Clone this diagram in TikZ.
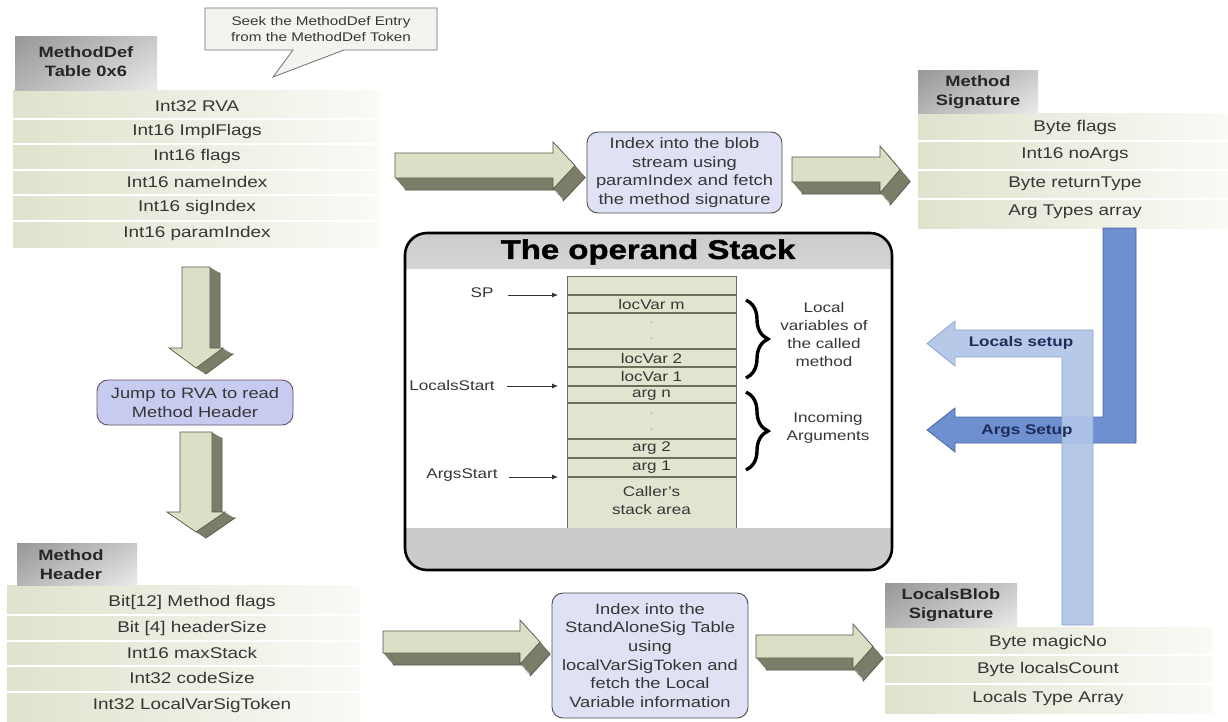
\documentclass[tikz,border=0pt]{standalone}
\usepackage{fontspec}
\setmainfont{Liberation Sans}[FakeStretch=1.22]
\usetikzlibrary{decorations.pathreplacing,arrows.meta,shadings}

\definecolor{txt}{HTML}{363636}
\definecolor{rowL}{HTML}{DEE3CD}
\definecolor{rowR}{HTML}{FAFAF6}
\definecolor{tabUL}{HTML}{979797}
\definecolor{tabUR}{HTML}{C8C8C8}
\definecolor{tabLL}{HTML}{B4B4B4}
\definecolor{tabLR}{HTML}{EAEAEA}
\definecolor{arrface}{HTML}{DCDEC6}
\definecolor{arrside}{HTML}{7B7D69}
\definecolor{arredge}{HTML}{55574A}
\definecolor{boxfill}{HTML}{DFE2F4}
\definecolor{jumpfill}{HTML}{C7CBF0}
\definecolor{jumpedge}{HTML}{6A4C68}
\definecolor{darkblue}{HTML}{6E8FD0}
\definecolor{darkblueE}{HTML}{4A67A5}
\definecolor{lightblue}{HTML}{B1C5E7}
\definecolor{lightblueE}{HTML}{8CA4D0}
\definecolor{bluetxt}{HTML}{1E2C5C}
\definecolor{stackfill}{HTML}{E1E5CF}
\definecolor{stackedge}{HTML}{6D6F5C}
\definecolor{bandgray}{HTML}{CBCBCB}
\definecolor{calloutfill}{HTML}{F3F3EF}
\definecolor{calloutedge}{HTML}{707070}

% three-dimensional block arrow pointing right:
% #1 tail x, #2 head base x, #3 top y, #4 bottom y, #5 head length
\newcommand{\blockright}[5]{%
  \pgfmathsetmacro{\bym}{(#3+#4)/2}%
  \draw[arredge,line width=0.7,fill=arrside,shift={(10.2,12)}]
    (#1,#3) -- (#2,#3) -- (#2,#3-11) -- (#2+#5,\bym) -- (#2,#4+11) -- (#2,#4) -- (#1,#4) -- cycle;
  \foreach \k in {1,...,11}{%
    \fill[arrside,shift={(0.85*\k,\k)}]
      (#1,#3) -- (#2,#3) -- (#2,#3-11) -- (#2+#5,\bym) -- (#2,#4+11) -- (#2,#4) -- (#1,#4) -- cycle;}%
  \draw[arredge,line width=0.7,fill=arrface]
    (#1,#3) -- (#2,#3) -- (#2,#3-11) -- (#2+#5,\bym) -- (#2,#4+11) -- (#2,#4) -- (#1,#4) -- cycle;
}
% three-dimensional block arrow pointing down:
% #1 left x, #2 right x, #3 top y, #4 head base y, #5 head half width, #6 head length
\newcommand{\blockdown}[6]{%
  \pgfmathsetmacro{\bxm}{(#1+#2)/2}%
  \draw[arredge,line width=0.7,fill=arrside,shift={(10,6)}]
    (#1,#3) -- (#2,#3) -- (#2,#4) -- (\bxm+#5,#4) -- (\bxm,#4+#6) -- (\bxm-#5,#4) -- (#1,#4) -- cycle;
  \foreach \k in {1,...,9}{%
    \fill[arrside,shift={(\k,0.6*\k)}]
      (#1,#3) -- (#2,#3) -- (#2,#4) -- (\bxm+#5,#4) -- (\bxm,#4+#6) -- (\bxm-#5,#4) -- (#1,#4) -- cycle;}%
  \draw[arredge,line width=0.7,fill=arrface]
    (#1,#3) -- (#2,#3) -- (#2,#4) -- (\bxm+#5,#4) -- (\bxm,#4+#6) -- (\bxm-#5,#4) -- (#1,#4) -- cycle;
}

\tikzset{
  tabshade/.style={upper left=tabUL,upper right=tabUR,lower left=tabLL,lower right=tabLR},
  rowshade/.style={left color=rowL,right color=rowR},
  rowsep/.style={white,line width=1.6},
  rowtext/.style={text=txt,font=\fontsize{15.5}{19}\selectfont,inner sep=0pt},
  tabtext/.style={text=black!85,font=\fontsize{15}{19}\selectfont\bfseries,align=center,inner sep=0pt},
  stepbox/.style={draw=#1,line width=0.9,rounded corners=11,text=txt,align=center,
    font=\fontsize{15}{18.6}\selectfont,inner sep=0pt},
  stacktext/.style={text=txt,font=\fontsize{14}{18}\selectfont,inner sep=0pt,align=center},
  pointer/.style={-{Latex[length=6pt,width=5pt]},line width=0.8,black!80},
  bracestyle/.style={decorate,decoration={brace,amplitude=22pt,aspect=0.5},line width=3.4},
  bluetext/.style={text=bluetxt,font=\fontsize{14}{17}\selectfont\bfseries,inner sep=0pt},
}

\begin{document}
\begin{tikzpicture}[x=1pt,y=-1pt]
\useasboundingbox (0,0) rectangle (1228,721);
\fill[white] (0,0) rectangle (1228,721);

% ---------- callout ----------
\filldraw[fill=calloutfill,draw=calloutedge,line width=0.8]
  (205,8) -- (437,8) -- (437,50) -- (344,50) -- (273,77) -- (293,50) -- (205,50) -- cycle;
\node[text=txt,font=\fontsize{12.5}{16}\selectfont,align=center,inner sep=0pt] (seek) at (321,29)
  {Seek the MethodDef Entry\\from the MethodDef Token};

% ---------- MethodDef table ----------
\shade[rowshade] (13,90) rectangle (380,247);
\foreach \y in {119,144,170,195,221} \draw[rowsep] (13,\y) -- (380,\y);
\shade[tabshade] (15,36) rectangle (157,90);
\node[tabtext] (mdtab) at (86,62) {MethodDef\\Table 0x6};
\node[rowtext] (md1) at (197,106) {Int32 RVA};
\node[rowtext] (md2) at (197,131) {Int16 ImplFlags};
\node[rowtext] (md3) at (197,156) {Int16 flags};
\node[rowtext] (md4) at (197,182) {Int16 nameIndex};
\node[rowtext] (md5) at (197,207) {Int16 sigIndex};
\node[rowtext] (md6) at (197,233) {Int16 paramIndex};

% ---------- Method signature table ----------
\shade[rowshade] (918,113) rectangle (1228,228);
\foreach \y in {141,170,199} \draw[rowsep] (918,\y) -- (1228,\y);
\shade[tabshade] (918,70) rectangle (1038,113);
\node[tabtext] (sigtab) at (978,92) {Method\\Signature};
\node[rowtext] (sg1) at (1075,127) {Byte flags};
\node[rowtext] (sg2) at (1075,155) {Int16 noArgs};
\node[rowtext] (sg3) at (1075,184) {Byte returnType};
\node[rowtext] (sg4) at (1075,212) {Arg Types array};

% ---------- Method header table ----------
\shade[rowshade] (7,585) rectangle (360,721);
\foreach \y in {615,641,666,692} \draw[rowsep] (7,\y) -- (360,\y);
\shade[tabshade] (17,543) rectangle (137,585);
\node[tabtext] (hdtab) at (71,565) {Method\\Header};
\node[rowtext] (hd1) at (192,602) {Bit[12] Method flags};
\node[rowtext] (hd2) at (192,628) {Bit [4] headerSize};
\node[rowtext] (hd3) at (192,653) {Int16 maxStack};
\node[rowtext] (hd4) at (192,678) {Int32 codeSize};
\node[rowtext] (hd5) at (192,705) {Int32 LocalVarSigToken};

% ---------- LocalsBlob signature table ----------
\shade[rowshade] (885,627) rectangle (1213,713);
\foreach \y in {655,684} \draw[rowsep] (885,\y) -- (1213,\y);
\shade[tabshade] (885,583) rectangle (1017,627);
\node[tabtext] (lbtab) at (951,605) {LocalsBlob\\Signature};
\node[rowtext] (lb1) at (1048,642) {Byte magicNo};
\node[rowtext] (lb2) at (1048,669) {Byte localsCount};
\node[rowtext] (lb3) at (1048,698) {Locals Type Array};

% ---------- block arrows ----------
\blockright{395}{553}{153}{178}{22}
\blockright{792}{880}{157}{182}{20}
\blockright{383}{520}{631}{653}{20}
\blockright{756}{853}{635}{658}{20}
\blockdown{182}{210}{267}{348}{27}{20}
\blockdown{180}{212}{432}{512}{29}{20}

% ---------- step boxes ----------
\node[stepbox=black!70,fill=boxfill,minimum width=195,minimum height=81] (blob) at (684.5,172.5)
  {Index into the blob\\stream using\\paramIndex and fetch\\the method signature};
\node[stepbox=jumpedge,fill=jumpfill,minimum width=196,minimum height=45] (jump) at (195,402.5)
  {Jump to RVA to read\\Method Header};
\node[stepbox=black!70,fill=boxfill,minimum width=196,minimum height=125] (sasig) at (650,655.5)
  {Index into the\\StandAloneSig Table\\using\\localVarSigToken and\\fetch the Local\\Variable information};

% ---------- setup arrows ----------
\filldraw[fill=darkblue,draw=darkblueE,line width=0.8]
  (1103,228) -- (1136,228) -- (1136,443) -- (955,443) -- (955,452) -- (927,430)
  -- (955,408) -- (955,417) -- (1103,417) -- cycle;
\filldraw[fill=lightblue,draw=lightblueE,line width=0.8,fill opacity=0.92]
  (1062,625) -- (1093,625) -- (1093,330) -- (955,330) -- (955,321) -- (927,343.5)
  -- (955,366) -- (955,357) -- (1062,357) -- cycle;
\node[bluetext] (locset) at (1021,343) {Locals setup};
\node[bluetext] (argset) at (1027,431) {Args Setup};

% ---------- operand stack panel ----------
\begin{scope}
  \clip[rounded corners=22] (405,233) rectangle (892,570);
  \fill[white] (405,233) rectangle (892,570);
  \shade[top color=bandgray,bottom color=bandgray!80!white] (405,233) rectangle (892,268);
  \fill[bandgray] (405,528) rectangle (892,570);
\end{scope}
\draw[line width=2.6,rounded corners=22] (405,233) rectangle (892,570);
\node[font=\fontsize{27}{30}\selectfont\bfseries\addfontfeature{FakeBold=1.4},text=black,inner sep=0pt]
  (title) at (648,252) {The operand Stack};

% stack column
\fill[stackfill] (567,276) rectangle (736,528);
\draw[stackedge,line width=0.8] (567,528) -- (567,276) -- (736,276) -- (736,528);
\foreach \y in {295,313,349,367,386,403,439,458,477}
  \draw[stackedge,line width=1.1] (567,\y) -- (736,\y);
\node[stacktext] (lvm) at (651.5,304) {locVar m};
\node[stacktext] (lv2) at (651.5,358) {locVar 2};
\node[stacktext] (lv1) at (651.5,376.5) {locVar 1};
\node[stacktext] (argn) at (651.5,395) {arg n};
\node[stacktext] (arg2) at (651.5,448.5) {arg 2};
\node[stacktext] (arg1) at (651.5,467.5) {arg 1};
\node[stacktext] (caller) at (651.5,500) {Caller's\\stack area};
\foreach \y in {322,338,413,429} \fill[black!35] (651.5,\y) circle (0.9);

% stack pointers
\node[stacktext] (sp) at (482,293) {SP};
\node[stacktext] (ls) at (452,385) {LocalsStart};
\node[stacktext] (as) at (462,475) {ArgsStart};
\coordinate (sptip) at (558,295);
\coordinate (lstip) at (558,386);
\coordinate (astip) at (558,477);
\draw[pointer,shorten <=14pt] (sp.east |- sptip) -- (sptip);
\draw[pointer,shorten <=12pt] (ls.east |- lstip) -- (lstip);
\draw[pointer,shorten <=11pt] (as.east |- astip) -- (astip);

% braces and their captions
\draw[bracestyle] (746,300) -- (746,378);
\draw[bracestyle] (746,392) -- (746,470);
\node[stacktext] (locvars) at (824,334) {Local\\variables of\\the called\\method};
\node[stacktext] (incoming) at (828,428) {Incoming\\Arguments};
\end{tikzpicture}
\end{document}
